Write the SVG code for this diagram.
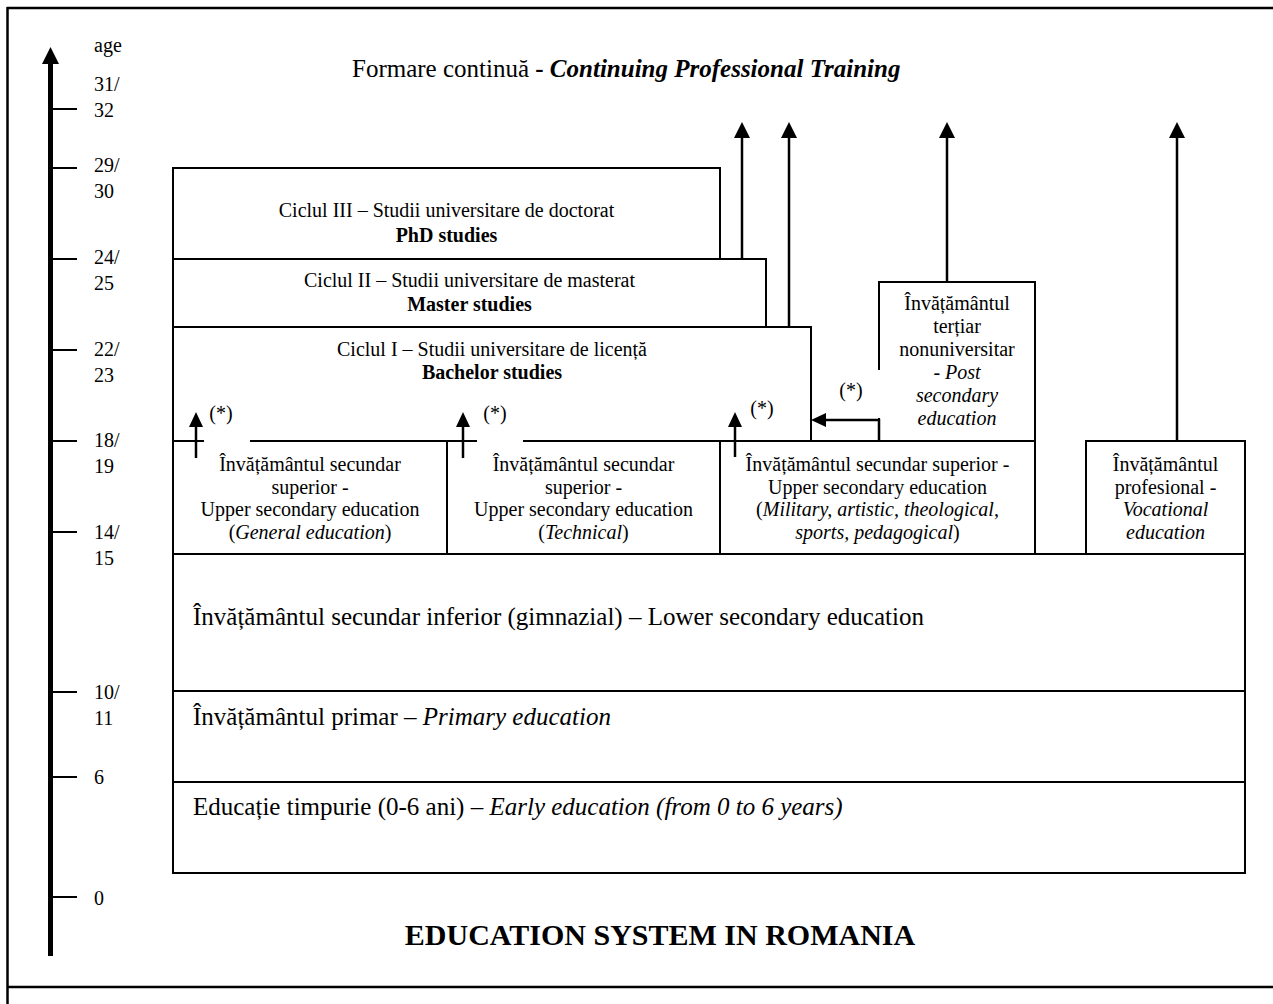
<svg xmlns="http://www.w3.org/2000/svg" width="1273" height="1004" viewBox="0 0 1273 1004">
<style>
.t{font-family:'Liberation Serif','Times New Roman',serif;fill:#000}
.s{font-size:20px}
.b{font-size:25px}
.c{text-anchor:middle}
.i{font-style:italic}
.bo{font-weight:bold}
.box{fill:#fff;stroke:#000;stroke-width:2}
.con{fill:none;stroke:#000;stroke-width:2.5}
.tick{stroke:#000;stroke-width:2}
.frame{stroke:#000;stroke-width:2.5}
.mask{fill:#fff;stroke:none}
</style>
<defs>
<marker id="ah" markerUnits="userSpaceOnUse" markerWidth="16" markerHeight="16" refX="0" refY="8" orient="auto" viewBox="0 0 16 16">
<path d="M0,0 L16,8 L0,16 z" fill="#000"/>
</marker>
<marker id="ahs" markerUnits="userSpaceOnUse" markerWidth="15" markerHeight="14" refX="0" refY="7" orient="auto" viewBox="0 0 15 14">
<path d="M0,0 L15,7 L0,14 z" fill="#000"/>
</marker>
<marker id="axh" markerUnits="userSpaceOnUse" markerWidth="17" markerHeight="17" refX="0" refY="8.5" orient="auto" viewBox="0 0 17 17">
<path d="M0,0 L17,8.5 L0,17 z" fill="#000"/>
</marker>
</defs>

<g id="frame">
<line class="frame" x1="7" y1="8" x2="1273" y2="8"/>
<line class="frame" x1="7.5" y1="7" x2="7.5" y2="1004"/>
<line class="frame" x1="7" y1="987" x2="1273" y2="987"/>
</g>

<g id="axis">
<line x1="50.5" y1="956" x2="50.5" y2="64" stroke="#000" stroke-width="5" marker-end="url(#axh)"/>
<line class="tick" x1="53" y1="109" x2="77" y2="109"/>
<line class="tick" x1="53" y1="168" x2="77" y2="168"/>
<line class="tick" x1="53" y1="259" x2="77" y2="259"/>
<line class="tick" x1="53" y1="350" x2="77" y2="350"/>
<line class="tick" x1="53" y1="441" x2="77" y2="441"/>
<line class="tick" x1="53" y1="532" x2="77" y2="532"/>
<line class="tick" x1="53" y1="692" x2="77" y2="692"/>
<line class="tick" x1="53" y1="777" x2="77" y2="777"/>
<line class="tick" x1="53" y1="897" x2="77" y2="897"/>
<text class="t s" x="94" y="52">age</text>
<text class="t s" x="94" y="91">31/</text>
<text class="t s" x="94" y="117">32</text>
<text class="t s" x="94" y="172">29/</text>
<text class="t s" x="94" y="198">30</text>
<text class="t s" x="94" y="264">24/</text>
<text class="t s" x="94" y="290">25</text>
<text class="t s" x="94" y="356">22/</text>
<text class="t s" x="94" y="382">23</text>
<text class="t s" x="94" y="447">18/</text>
<text class="t s" x="94" y="473">19</text>
<text class="t s" x="94" y="539">14/</text>
<text class="t s" x="94" y="565">15</text>
<text class="t s" x="94" y="699">10/</text>
<text class="t s" x="94" y="725">11</text>
<text class="t s" x="94" y="784">6</text>
<text class="t s" x="94" y="905">0</text>
</g>

<g id="title-training">
<text class="t b" x="352" y="77">Formare continuă <tspan class="bo">- </tspan><tspan class="bo i">Continuing Professional Training</tspan></text>
</g>

<g id="phd">
<rect class="box" x="173" y="168" width="547" height="91"/>
<text class="t s c" x="446.5" y="217">Ciclul III – Studii universitare de doctorat</text>
<text class="t s c bo" x="446.5" y="242">PhD studies</text>
</g>
<g id="master">
<rect class="box" x="173" y="259" width="593" height="68"/>
<text class="t s c" x="469.5" y="287">Ciclul II – Studii universitare de masterat</text>
<text class="t s c bo" x="469.5" y="311">Master studies</text>
</g>
<g id="bachelor">
<rect class="box" x="173" y="327" width="638" height="114"/>
<text class="t s c" x="492" y="356">Ciclul I – Studii universitare de licență</text>
<text class="t s c bo" x="492" y="379">Bachelor studies</text>
</g>
<g id="postsecondary">
<rect class="box" x="879" y="282" width="156" height="159"/>
<text class="t s c" x="957" y="310">Învățământul</text>
<text class="t s c" x="957" y="333">terțiar</text>
<text class="t s c" x="957" y="356">nonuniversitar</text>
<text class="t s c" x="957" y="379">- <tspan class="i">Post</tspan></text>
<text class="t s c i" x="957" y="402">secondary</text>
<text class="t s c i" x="957" y="425">education</text>
</g>
<g id="upper-general">
<rect class="box" x="173" y="441" width="274" height="113"/>
<text class="t s c" x="310" y="471">Învățământul secundar</text>
<text class="t s c" x="310" y="493.5">superior -</text>
<text class="t s c" x="310" y="516">Upper secondary education</text>
<text class="t s c" x="310" y="538.5">(<tspan class="i">General education</tspan>)</text>
</g>
<g id="upper-technical">
<rect class="box" x="447" y="441" width="273" height="113"/>
<text class="t s c" x="583.5" y="471">Învățământul secundar</text>
<text class="t s c" x="583.5" y="493.5">superior -</text>
<text class="t s c" x="583.5" y="516">Upper secondary education</text>
<text class="t s c" x="583.5" y="538.5">(<tspan class="i">Technical</tspan>)</text>
</g>
<g id="upper-special">
<rect class="box" x="720" y="441" width="315" height="113"/>
<text class="t s c" x="877.5" y="471">Învățământul secundar superior -</text>
<text class="t s c" x="877.5" y="493.5">Upper secondary education</text>
<text class="t s c" x="877.5" y="516">(<tspan class="i">Military, artistic, theological,</tspan></text>
<text class="t s c" x="877.5" y="538.5"><tspan class="i">sports, pedagogical</tspan>)</text>
</g>
<g id="vocational">
<rect class="box" x="1086" y="441" width="159" height="113"/>
<text class="t s c" x="1165.5" y="471">Învățământul</text>
<text class="t s c" x="1165.5" y="493.5">profesional -</text>
<text class="t s c i" x="1165.5" y="516">Vocational</text>
<text class="t s c i" x="1165.5" y="538.5">education</text>
</g>
<g id="lower-secondary">
<rect class="box" x="173" y="554" width="1072" height="137"/>
<text class="t b" x="193" y="625">Învățământul secundar inferior (gimnazial) – Lower secondary education</text>
</g>
<g id="primary">
<rect class="box" x="173" y="691" width="1072" height="91"/>
<text class="t b" x="193" y="725">Învățământul primar – <tspan class="i">Primary education</tspan></text>
</g>
<g id="early">
<rect class="box" x="173" y="782" width="1072" height="91"/>
<text class="t b" x="193" y="815">Educație timpurie (0-6 ani) – <tspan class="i">Early education (from 0 to 6 years)</tspan></text>
</g>

<g id="notes">
<rect class="mask" x="204" y="401" width="46" height="43"/>
<text class="t s c" x="221" y="420" font-size="16">(*)</text>
<rect class="mask" x="477" y="401" width="46" height="43"/>
<text class="t s c" x="495" y="420" font-size="16">(*)</text>
<text class="t s c" x="762" y="415" font-size="16">(*)</text>
<rect class="mask" x="832" y="370" width="50" height="48"/>
<text class="t s c" x="851" y="397" font-size="16">(*)</text>
</g>

<g id="connectors">
<path class="con" d="M742,259 V138" marker-end="url(#ah)"/>
<path class="con" d="M789,327 V138" marker-end="url(#ah)"/>
<path class="con" d="M947,282 V138" marker-end="url(#ah)"/>
<path class="con" d="M1177,441 V138" marker-end="url(#ah)"/>
<path class="con" d="M196,458 V427" marker-end="url(#ahs)"/>
<path class="con" d="M463,458 V427" marker-end="url(#ahs)"/>
<path class="con" d="M735,457 V427" marker-end="url(#ahs)"/>
<path class="con" d="M879,441 V420 H826" marker-end="url(#ahs)"/>
</g>

<g id="heading">
<text class="t bo c" x="660" y="945" font-size="30">EDUCATION SYSTEM IN ROMANIA</text>
</g>
</svg>
